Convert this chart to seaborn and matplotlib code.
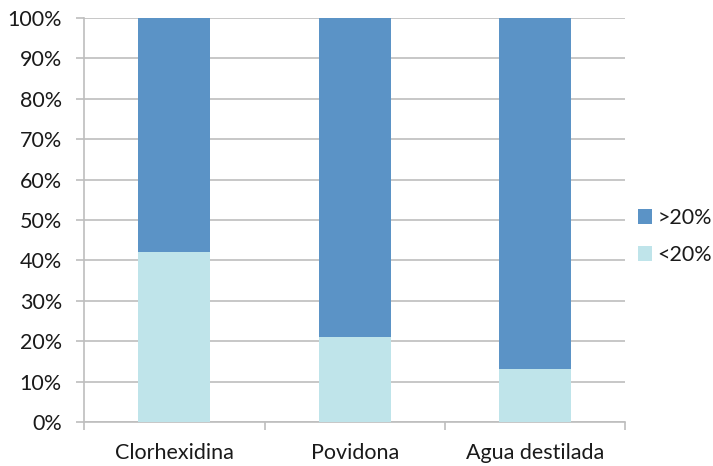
import matplotlib
matplotlib.use("Agg")
import matplotlib.pyplot as plt
from matplotlib.patches import Patch
from matplotlib.ticker import FixedLocator, PercentFormatter
import seaborn as sns

categories = ["Clorhexidina", "Povidona", "Agua destilada"]
below_20 = [42, 21, 13]   # "<20%" share per solution
above_20 = [58, 79, 87]   # ">20%" share per solution

dark = "#5B93C6"
light = "#BFE4EA"
grid_col = "#BEBEBE"
text_col = "#1a1a1a"
fs = 15.5

sns.set_theme(style="white")
plt.rcParams["font.family"] = ["Lato", "DejaVu Sans"]

fig = plt.figure(figsize=(7.13, 4.66), dpi=100)
ax = fig.add_axes([0.118, 0.0944, 0.759, 0.867])

totals = [b + a for b, a in zip(below_20, above_20)]
sns.barplot(x=categories, y=totals, color=dark, width=0.4, saturation=1,
            ax=ax, zorder=3, linewidth=0)
sns.barplot(x=categories, y=below_20, color=light, width=0.4, saturation=1,
            ax=ax, zorder=4, linewidth=0)

ax.set_xlim(-0.5, 2.5)
ax.set_ylim(0, 100)
ax.set_yticks(range(0, 101, 10))
ax.yaxis.set_major_formatter(PercentFormatter(decimals=0))
ax.yaxis.grid(True, color=grid_col, linewidth=1.2, zorder=0)
ax.set_axisbelow(True)

for side in ["top", "right"]:
    ax.spines[side].set_visible(False)
for side in ["left", "bottom"]:
    ax.spines[side].set_color(grid_col)
    ax.spines[side].set_linewidth(1.2)

ax.tick_params(axis="y", which="major", length=6, width=1.2, color=grid_col,
               labelsize=fs, labelcolor=text_col, pad=10, left=True)
ax.tick_params(axis="x", which="major", length=0, labelsize=fs,
               labelcolor=text_col, pad=15)
ax.xaxis.set_minor_locator(FixedLocator([-0.5, 0.5, 1.5, 2.5]))
ax.tick_params(axis="x", which="minor", length=6, width=1.2, color=grid_col,
               bottom=True)
ax.set_xlabel("")
ax.set_ylabel("")

handles = [Patch(facecolor=dark, edgecolor="none", label=">20%"),
           Patch(facecolor=light, edgecolor="none", label="<20%")]
fig.legend(handles=handles, loc="center left", bbox_to_anchor=(0.895, 0.4925),
           frameon=False, fontsize=fs, borderpad=0, borderaxespad=0,
           handlelength=0.65, handleheight=0.65, handletextpad=0.25,
           labelspacing=0.8, labelcolor=text_col)

fig.savefig("out.png", dpi=100)
